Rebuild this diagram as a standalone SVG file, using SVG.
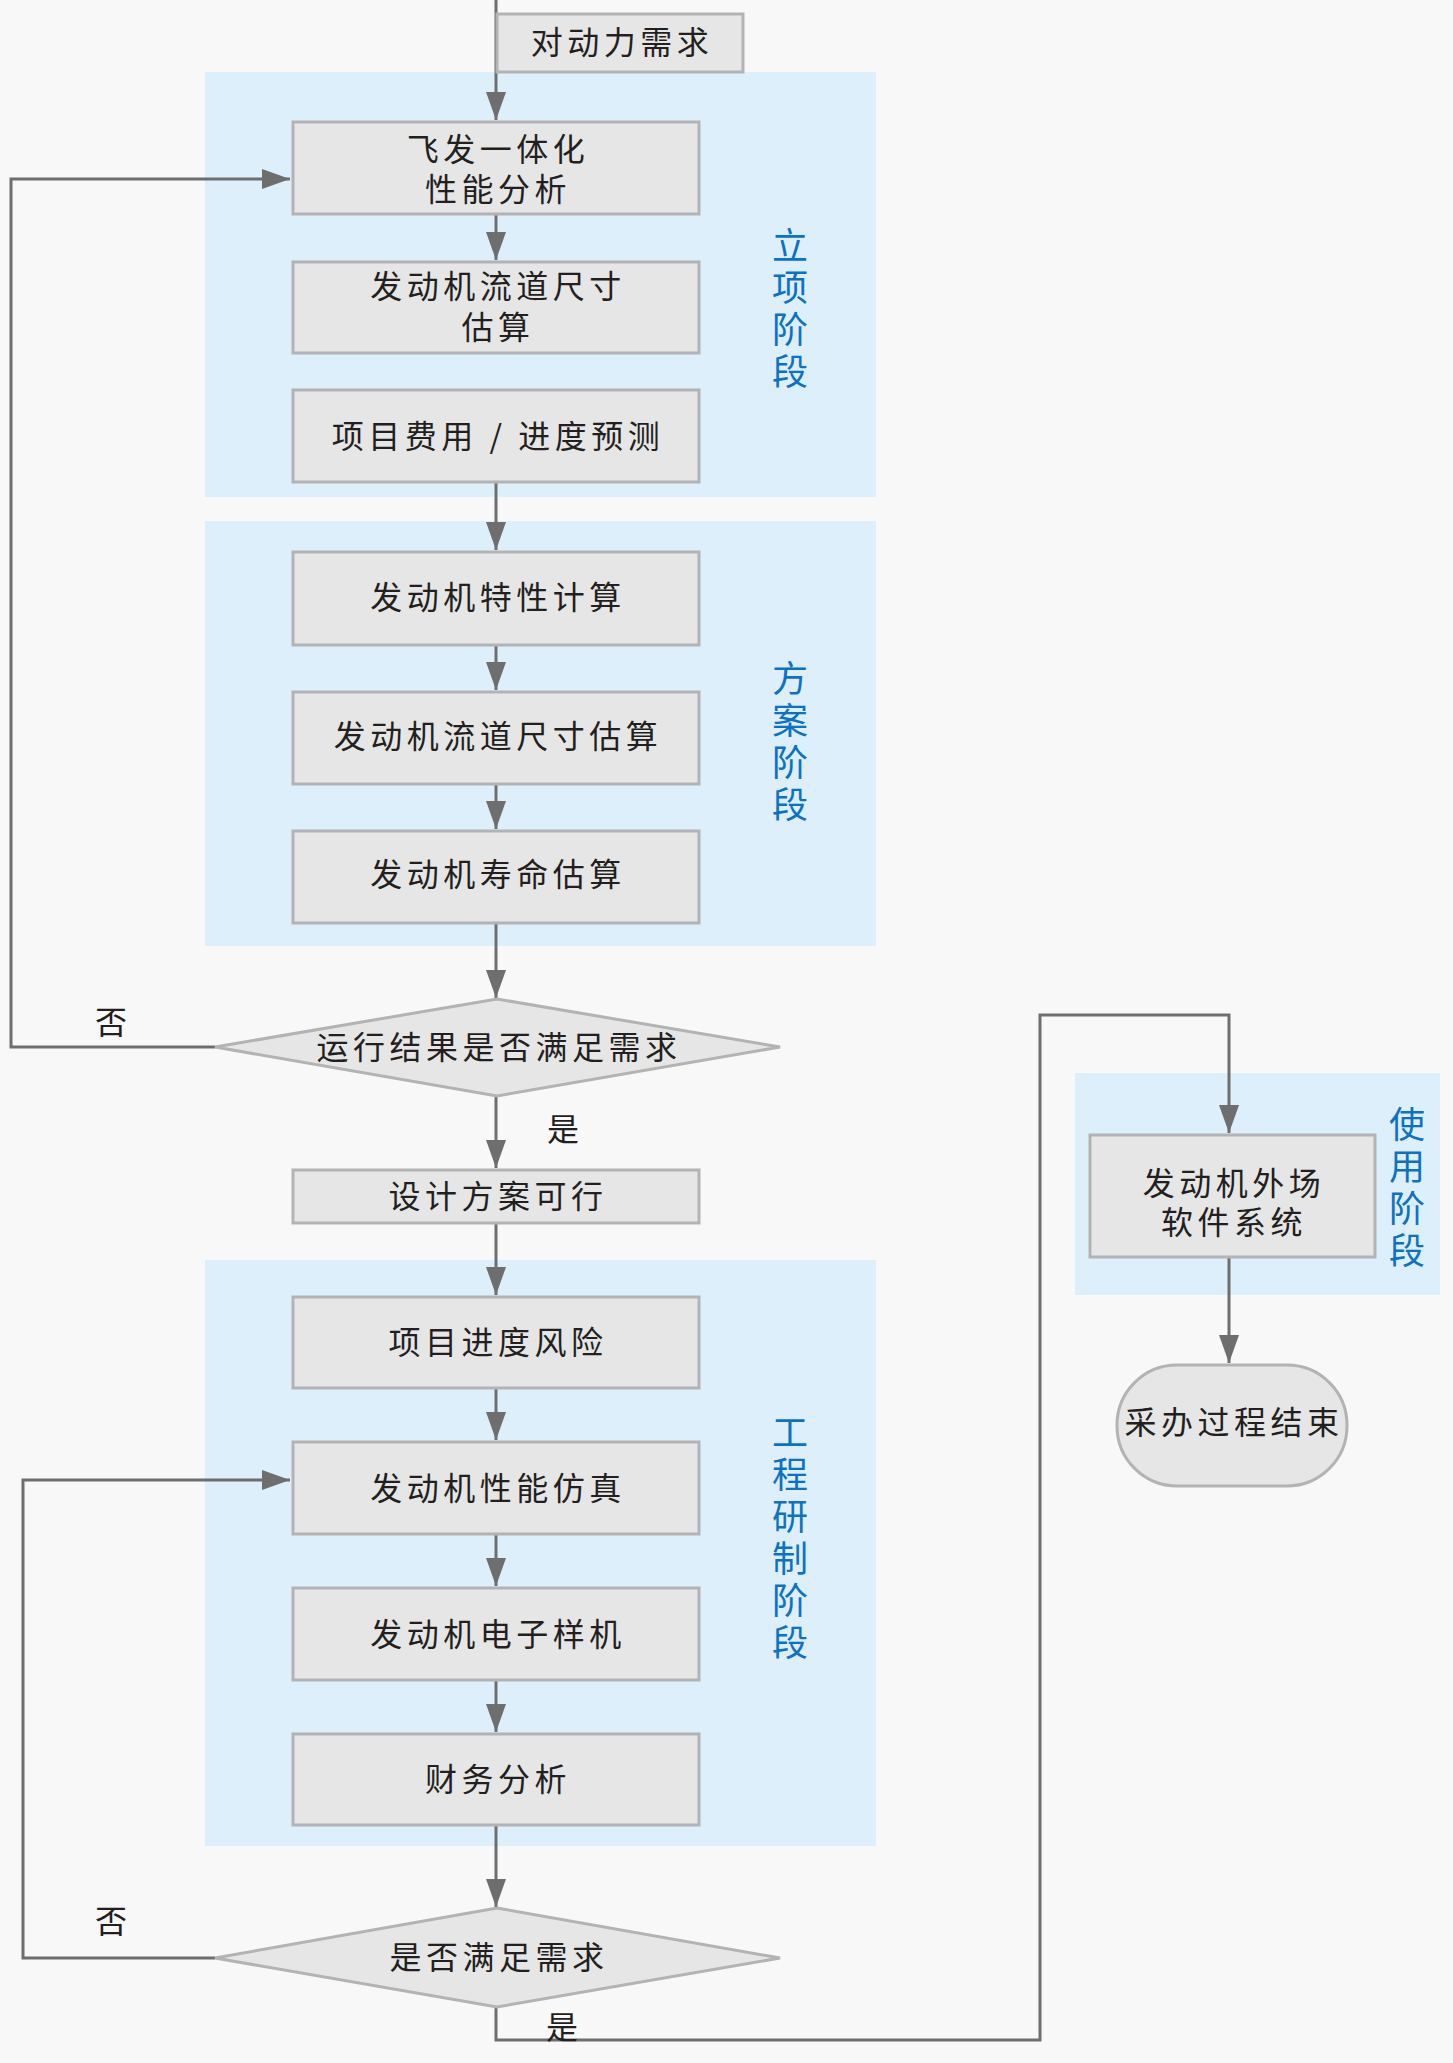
<svg xmlns="http://www.w3.org/2000/svg" width="1453" height="2063" viewBox="0 0 1453 2063">
<style>
.bg{fill:#f8f8f8}
.stage{fill:#ddeffb}
.box{fill:#e6e6e6;stroke:#b3b3b3;stroke-width:3}
.t{font-family:"Noto Sans CJK SC","Liberation Sans",sans-serif;font-size:32px;fill:#231f20;text-anchor:middle;letter-spacing:4.5px}
.lbl{font-family:"Noto Sans CJK SC","Liberation Sans",sans-serif;font-size:32px;fill:#231f20;text-anchor:middle}
.st{font-family:"Noto Sans CJK SC","Liberation Sans",sans-serif;font-size:36px;fill:#0d72c2;writing-mode:vertical-rl;text-anchor:start;letter-spacing:6px}
.c{fill:none;stroke:#6e6e6e;stroke-width:3}
</style>
<defs>
<marker id="ah" markerUnits="userSpaceOnUse" markerWidth="30" markerHeight="22" refX="28" refY="10" orient="auto">
<path d="M0,0 L28,10 L0,20 z" fill="#6e6e6e"/>
</marker>
</defs>
<rect class="bg" x="0" y="0" width="1453" height="2063"/>

<g id="stages">
<rect class="stage" x="205" y="72" width="671" height="425"/>
<rect class="stage" x="205" y="521" width="671" height="425"/>
<rect class="stage" x="205" y="1260" width="671" height="586"/>
<rect class="stage" x="1075" y="1073" width="365" height="222"/>
<text class="st" x="790" y="227">立项阶段</text>
<text class="st" x="790" y="660">方案阶段</text>
<text class="st" x="790" y="1414">工程研制阶段</text>
<text class="st" x="1407" y="1106">使用阶段</text>
</g>

<g id="connectors">
<path class="c" d="M496,0 V120" marker-end="url(#ah)"/>
<path class="c" d="M496,214 V260" marker-end="url(#ah)"/>
<path class="c" d="M496,482 V550" marker-end="url(#ah)"/>
<path class="c" d="M496,645 V690" marker-end="url(#ah)"/>
<path class="c" d="M496,784 V829" marker-end="url(#ah)"/>
<path class="c" d="M496,923 V998" marker-end="url(#ah)"/>
<path class="c" d="M496,1096 V1168" marker-end="url(#ah)"/>
<path class="c" d="M496,1223 V1295" marker-end="url(#ah)"/>
<path class="c" d="M496,1388 V1440" marker-end="url(#ah)"/>
<path class="c" d="M496,1534 V1586" marker-end="url(#ah)"/>
<path class="c" d="M496,1680 V1732" marker-end="url(#ah)"/>
<path class="c" d="M496,1825 V1907" marker-end="url(#ah)"/>
<path class="c" d="M215,1047 H11 V179 H290" marker-end="url(#ah)"/>
<path class="c" d="M215,1958 H23 V1480 H290" marker-end="url(#ah)"/>
<path class="c" d="M496,2007 V2040 H1040 V1015 H1229 V1133" marker-end="url(#ah)"/>
<path class="c" d="M1229,1257 V1363" marker-end="url(#ah)"/>
<text class="lbl" x="111" y="1034">否</text>
<text class="lbl" x="563" y="1141">是</text>
<text class="lbl" x="111" y="1933">否</text>
<text class="lbl" x="562" y="2039">是</text>
</g>

<g id="n-demand"><rect class="box" x="497" y="14" width="246" height="58"/><text class="t" x="622" y="54">对动力需求</text></g>
<g id="n-fafa"><rect class="box" x="293" y="122" width="406" height="92"/><text class="t"><tspan x="498" y="161">飞发一体化</tspan><tspan x="498" y="201">性能分析</tspan></text></g>
<g id="n-flow1"><rect class="box" x="293" y="262" width="406" height="91"/><text class="t"><tspan x="498" y="298">发动机流道尺寸</tspan><tspan x="498" y="339">估算</tspan></text></g>
<g id="n-cost"><rect class="box" x="293" y="390" width="406" height="92"/><text class="t" x="498" y="448">项目费用 / 进度预测</text></g>
<g id="n-char"><rect class="box" x="293" y="552" width="406" height="93"/><text class="t" x="498" y="609">发动机特性计算</text></g>
<g id="n-flow2"><rect class="box" x="293" y="692" width="406" height="92"/><text class="t" x="498" y="748">发动机流道尺寸估算</text></g>
<g id="n-life"><rect class="box" x="293" y="831" width="406" height="92"/><text class="t" x="498" y="886">发动机寿命估算</text></g>
<g id="n-dec1"><polygon class="box" points="497,999 780,1047 497,1096 215,1047"/><text class="t" x="499" y="1059">运行结果是否满足需求</text></g>
<g id="n-feasible"><rect class="box" x="293" y="1170" width="406" height="53"/><text class="t" x="498" y="1208">设计方案可行</text></g>
<g id="n-risk"><rect class="box" x="293" y="1297" width="406" height="91"/><text class="t" x="498" y="1354">项目进度风险</text></g>
<g id="n-sim"><rect class="box" x="293" y="1442" width="406" height="92"/><text class="t" x="498" y="1500">发动机性能仿真</text></g>
<g id="n-proto"><rect class="box" x="293" y="1588" width="406" height="92"/><text class="t" x="498" y="1646">发动机电子样机</text></g>
<g id="n-fin"><rect class="box" x="293" y="1734" width="406" height="91"/><text class="t" x="498" y="1791">财务分析</text></g>
<g id="n-dec2"><polygon class="box" points="497,1908 780,1958 497,2007 215,1958"/><text class="t" x="499" y="1969">是否满足需求</text></g>
<g id="n-field"><rect class="box" x="1090" y="1135" width="285" height="122"/><text class="t"><tspan x="1234" y="1195">发动机外场</tspan><tspan x="1234" y="1234">软件系统</tspan></text></g>
<g id="n-end"><rect class="box" x="1117" y="1365" width="230" height="121" rx="60" ry="60"/><text class="t" x="1234" y="1434">采办过程结束</text></g>
</svg>
